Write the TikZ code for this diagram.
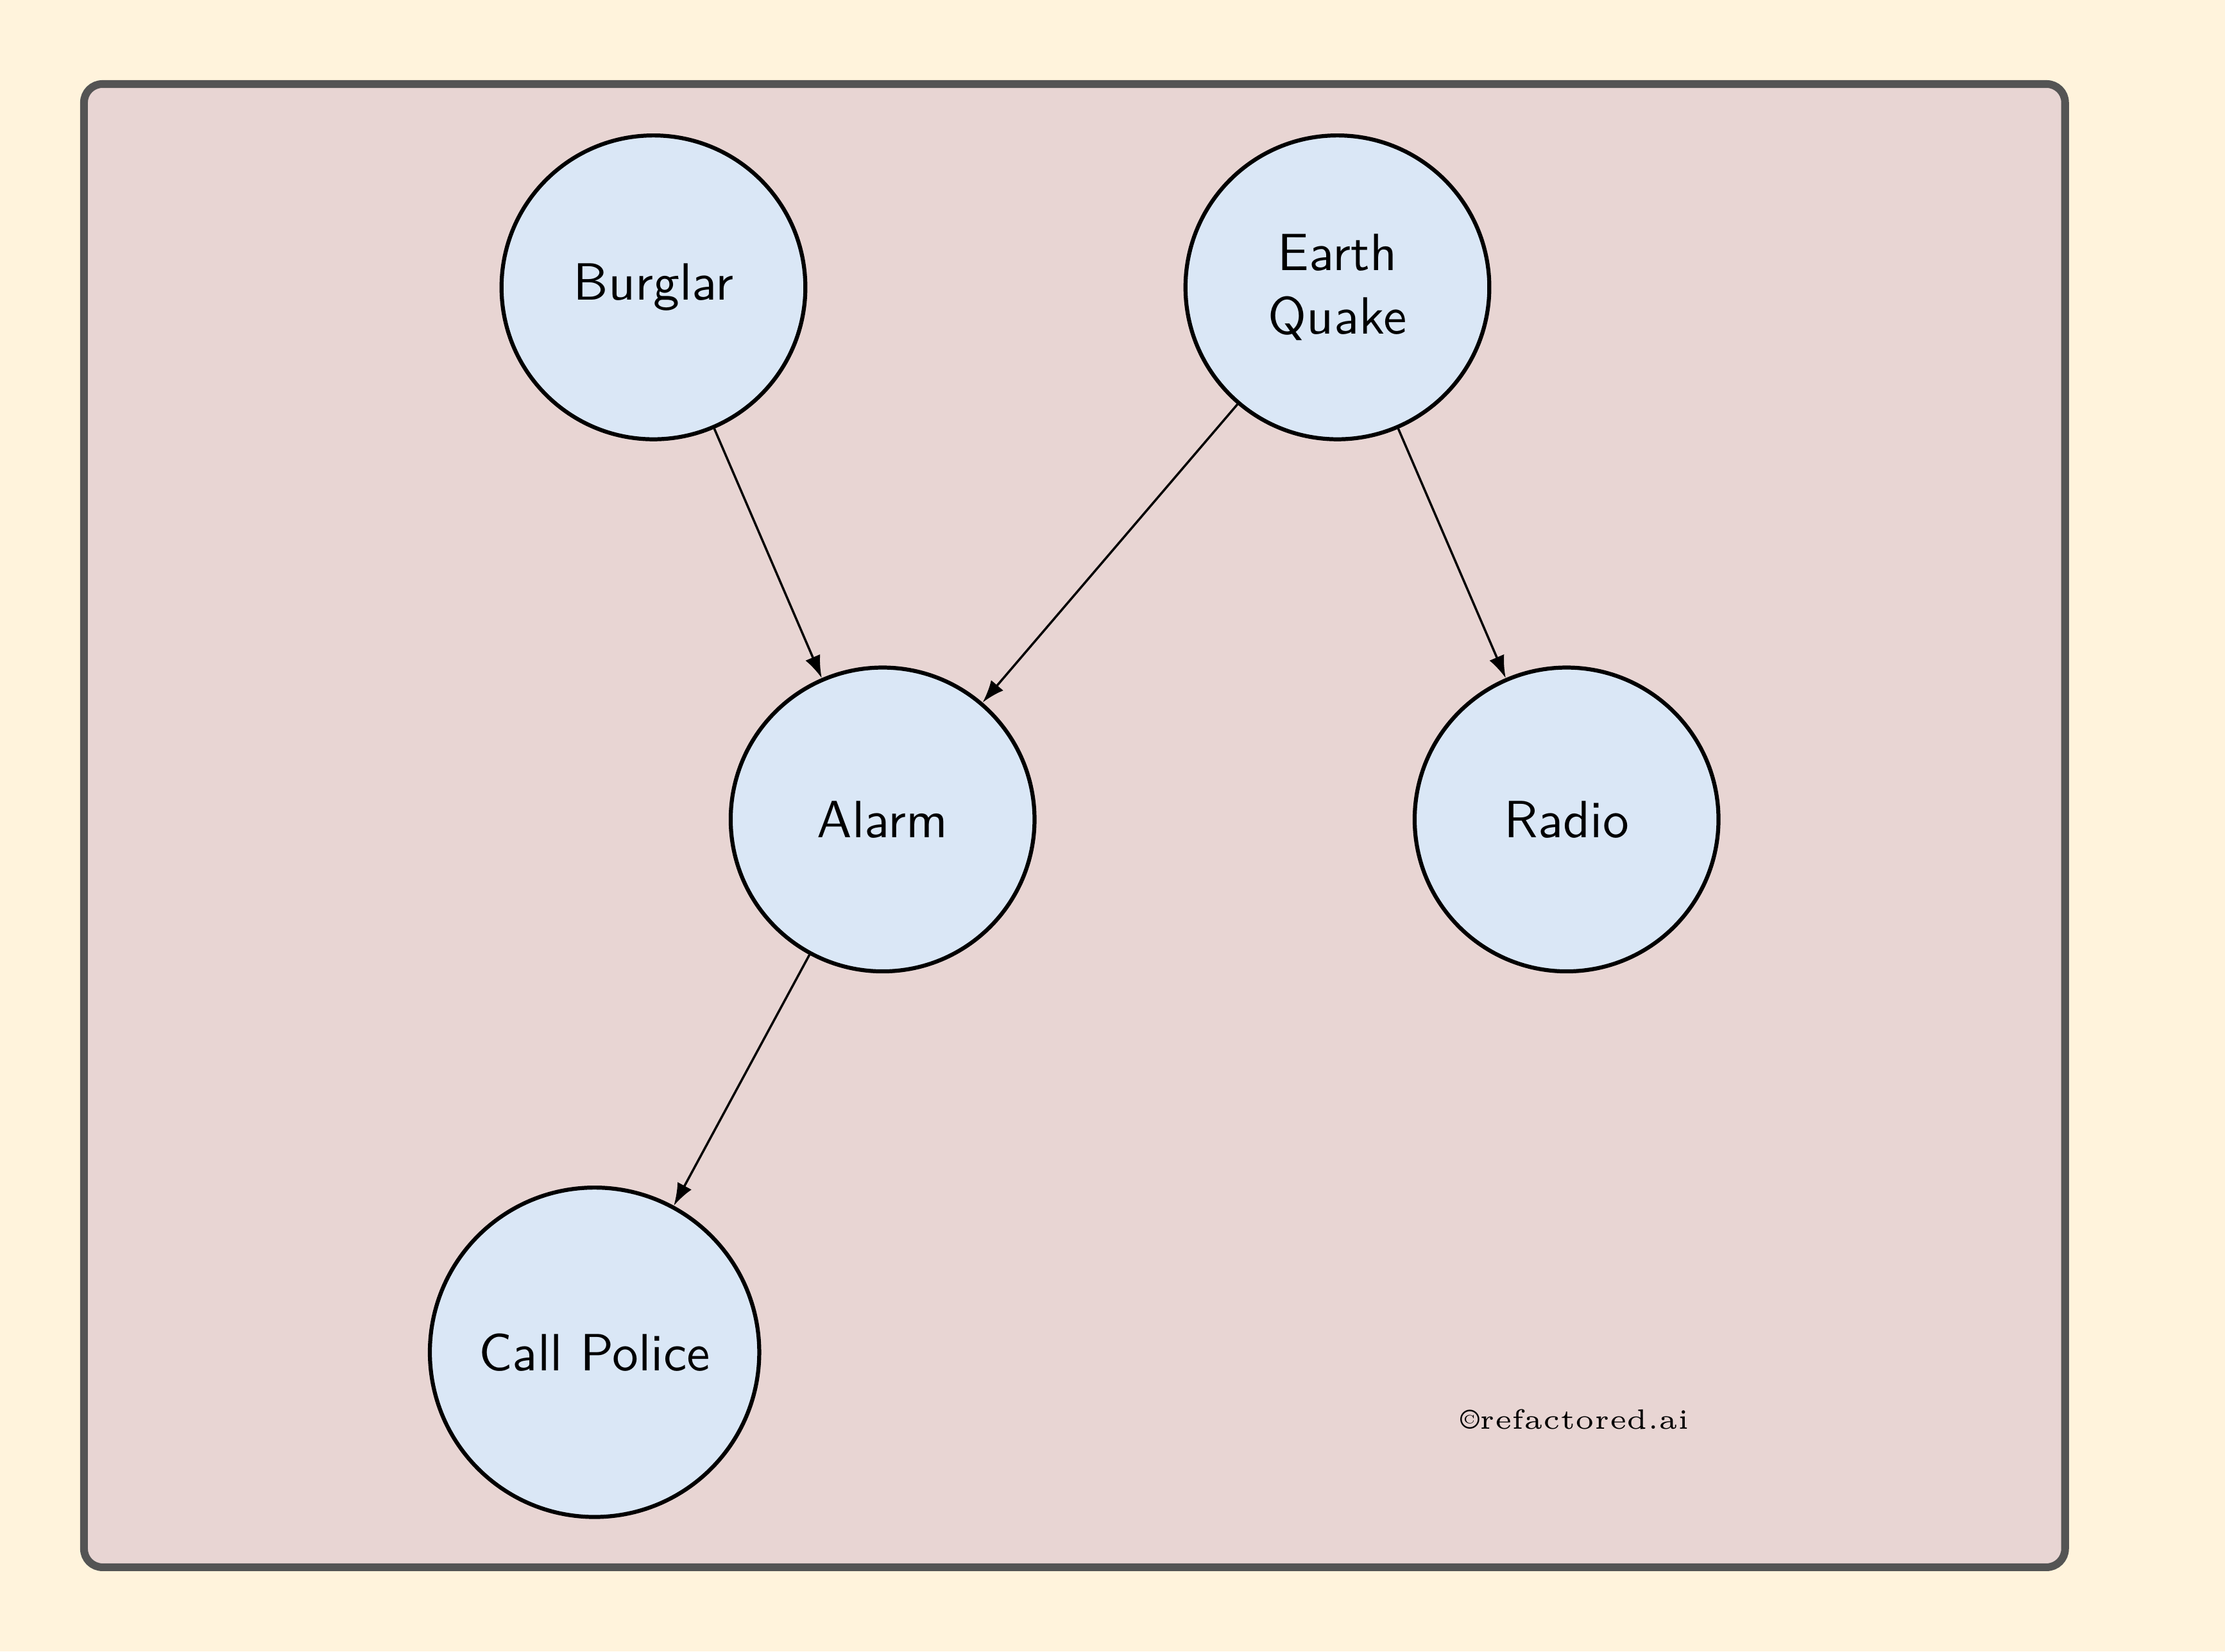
\documentclass[tikz,border=0pt]{standalone}
\usetikzlibrary{arrows.meta}
\definecolor{cream}{RGB}{255,243,220}
\definecolor{framefill}{RGB}{232,213,211}
\definecolor{framedraw}{RGB}{84,84,84}
\definecolor{nodefill}{RGB}{218,231,246}
\begin{document}
\begin{tikzpicture}[x=0.01cm,y=-0.01cm,
  bnode/.style={circle,draw=black,thick,fill=nodefill,minimum size=2.14cm,inner sep=2pt,
    font=\sffamily\fontsize{10.5}{12.8}\selectfont,align=center},
  link/.style={-{Latex[length=4.5pt,width=3.2pt]},line width=0.45pt}]
\fill[cream] (0,0) rectangle (1568,1163.8);
\draw[framedraw,fill=framefill,line width=1.55pt,rounded corners=0.13cm] (59.2,59.2) rectangle (1455.3,1104.5);
\node[bnode] (burglar) at (460.5,202.5) {Burglar};
\node[bnode] (quake) at (942.5,202.5) {Earth\\Quake};
\node[bnode] (alarm) at (622,577.5) {Alarm};
\node[bnode] (radio) at (1104,577.5) {Radio};
\node[bnode,minimum size=2.32cm] (police) at (419,953) {Call Police};
\node[anchor=base,inner sep=0pt] (copy) at (1110,1007) {\scalebox{1.12}{\tiny\textcopyright refactored.ai}};
\draw[link] (burglar) -- (alarm);
\draw[link] (quake) -- (alarm);
\draw[link] (quake) -- (radio);
\draw[link] (alarm) -- (police);
\end{tikzpicture}
\end{document}
